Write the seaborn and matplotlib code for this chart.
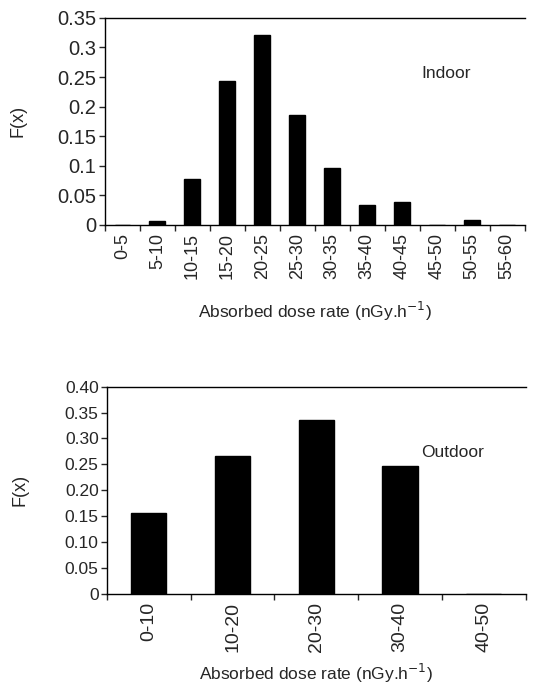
import numpy as np
import pandas as pd
import matplotlib
matplotlib.use('Agg')
import matplotlib.pyplot as plt
import seaborn as sns

# indoor distribution
indoor_bins = ['0-5', '5-10', '10-15', '15-20', '20-25', '25-30', '30-35',
               '35-40', '40-45', '45-50', '50-55', '55-60']
indoor_fx = [0.0, 0.007, 0.077, 0.243, 0.321, 0.186, 0.097, 0.033, 0.039, 0.0, 0.008, 0.0]
indoor_yticks = [0, 0.05, 0.1, 0.15, 0.2, 0.25, 0.3, 0.35]
indoor_ylabels = ['0', '0.05', '0.1', '0.15', '0.2', '0.25', '0.3', '0.35']

# outdoor distribution
outdoor_bins = ['0-10', '10-20', '20-30', '30-40', '40-50']
outdoor_fx = [0.156, 0.266, 0.335, 0.246, 0.0]
outdoor_yticks = [0, 0.05, 0.10, 0.15, 0.20, 0.25, 0.30, 0.35, 0.40]
outdoor_ylabels = ['0', '0.05', '0.10', '0.15', '0.20', '0.25', '0.30', '0.35', '0.40']

sns.set_style('white')
plt.rcParams['font.family'] = ['Liberation Sans', 'DejaVu Sans']

fig = plt.figure(figsize=(5.38, 6.88), dpi=100)
ax1 = fig.add_axes([0.195, 0.673, 0.78, 0.301])
ax2 = fig.add_axes([0.199, 0.137, 0.778, 0.301])


def style_axis(ax, cats, yticks, ylabels, ymax, yfs, xfs, label_y):
    n = len(cats)
    ax.set_xlim(-0.5, n - 0.5)
    ax.set_ylim(0, ymax)
    ax.set_yticks(yticks)
    ax.set_yticklabels(ylabels, fontsize=yfs)
    ax.set_xticks(range(n))
    ax.set_xticklabels(cats, rotation=90, fontsize=xfs)
    ax.set_xticks(np.arange(-0.5, n), minor=True)
    ax.tick_params(axis='x', which='major', length=0, pad=6)
    ax.tick_params(axis='x', which='minor', length=4, width=1, direction='out', bottom=True)
    ax.tick_params(axis='y', length=4, width=1, direction='out', left=True, pad=2)
    for s in ['left', 'bottom', 'top']:
        ax.spines[s].set_visible(True)
        ax.spines[s].set_color('black')
        ax.spines[s].set_linewidth(1)
    ax.spines['right'].set_visible(False)
    ax.set_ylabel('F(x)', fontsize=13)
    ax.yaxis.set_label_coords(-0.188, 0.5)
    ax.set_xlabel('Absorbed dose rate (nGy.h$^{-1}$)', fontsize=12.5)
    ax.xaxis.set_label_coords(0.5, label_y)


df_in = pd.DataFrame({'bin': indoor_bins, 'fx': indoor_fx})
sns.barplot(data=df_in, x='bin', y='fx', color='black', width=0.45, ax=ax1,
            saturation=1, edgecolor='black')
style_axis(ax1, indoor_bins, indoor_yticks, indoor_ylabels, 0.35, 14.5, 13, -0.36)
ax1.text(0.755, 0.73, 'Indoor', transform=ax1.transAxes, fontsize=12.5, va='center')

df_out = pd.DataFrame({'bin': outdoor_bins, 'fx': outdoor_fx})
sns.barplot(data=df_out, x='bin', y='fx', color='black', width=0.42, ax=ax2,
            saturation=1, edgecolor='black')
style_axis(ax2, outdoor_bins, outdoor_yticks, outdoor_ylabels, 0.40, 12.5, 14, -0.33)
ax2.text(0.75, 0.68, 'Outdoor', transform=ax2.transAxes, fontsize=12.5, va='center')

fig.savefig('out.png', dpi=100)
